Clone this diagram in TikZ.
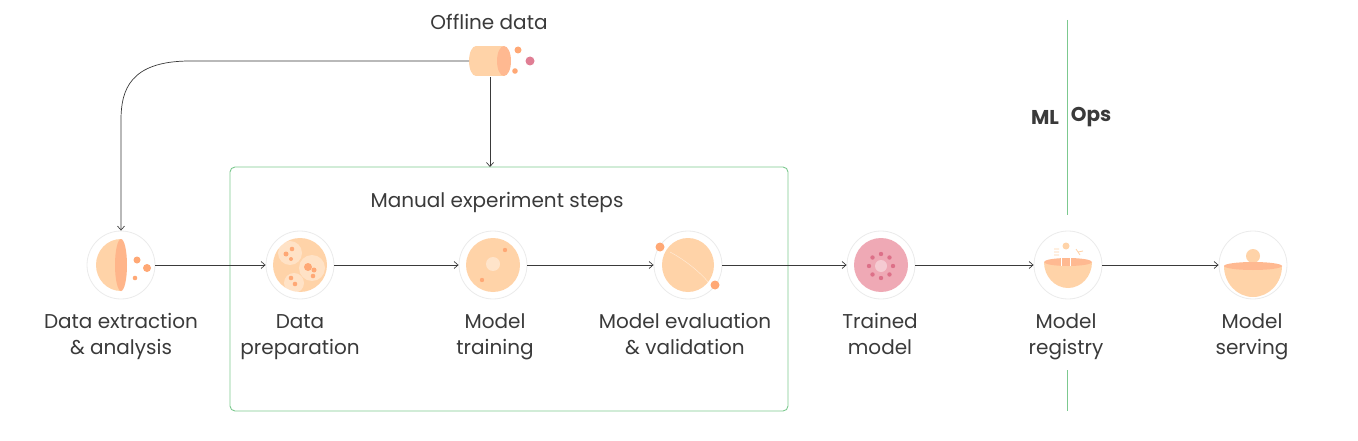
\documentclass[tikz,border=0pt]{standalone}
\usepackage{fontspec}
\setmainfont{Poppins}
\usetikzlibrary{arrows.meta}
\definecolor{peach}{HTML}{FFD3A8}
\definecolor{org}{HTML}{FFA875}
\definecolor{pinkc}{HTML}{EFA9B5}
\definecolor{pinkd}{HTML}{DD7088}
\definecolor{grn}{HTML}{7CC98F}
\definecolor{txt}{HTML}{3A3A3A}
\begin{document}
\begin{tikzpicture}[x=1pt,y=-1pt,
  ring/.style={circle,draw=black!8,line width=0.8pt,fill=white,minimum size=68pt,inner sep=0},
  lab/.style={align=center,font=\fontsize{20}{26}\selectfont,text=txt,inner sep=0},
  arr/.style={-{Straight Barb[length=4pt,width=7pt]},draw=txt,line width=0.7pt}]
\useasboundingbox (0,0) rectangle (1358,441);
\draw[grn,line width=0.9pt,rounded corners=5pt] (230,167) rectangle (788,411);
\node[lab] (title) at (497,202) {Manual experiment steps};
\draw[grn,line width=0.9pt] (1067,20) -- (1067,215);
\draw[grn,line width=0.9pt] (1067,370) -- (1067,411);
\node[lab,font=\fontsize{20}{24}\selectfont\bfseries] (ml) at (1045,117) {ML};
\node[lab,font=\fontsize{20}{24}\selectfont\bfseries] (ops) at (1091,117) {Ops};
\node[lab] (off) at (489,22) {Offline data};
\fill[peach] (476,46) rectangle (504,76);
\fill[peach] (476,61) ellipse (7 and 15);
\fill[org!80] (504,61) ellipse (7 and 15);
\fill[org] (518,50) circle (3.5);
\fill[pinkd!90] (530,61) circle (4.5);
\fill[org] (515,71) circle (2.8);
\coordinate (cl) at (469,61);
\coordinate (cb) at (490,77);
\foreach \n/\x in {a/121,b/300,c/493,d/688,e/881,f/1068,g/1253}{\node[ring] (\n) at (\x,265) {};}
% a
\begin{scope}\clip (90,230) rectangle (121,300); \fill[peach] (121,265) ellipse (25 and 26);\end{scope}
\fill[org!85] (121,265) ellipse (6 and 26);
\fill[org] (137,260) circle (3.5); \fill[org] (147,268) circle (4); \fill[org] (135,278) circle (2.3);
% b
\fill[peach] (300,265) circle (27);
\fill[white,opacity=.35] (290,253) circle (12); \fill[white,opacity=.35] (312,268) circle (13); \fill[white,opacity=.35] (294,283) circle (10);
\foreach \p/\r in {{(286,254)}/2.5,{(292,249)}/2.3,{(291,259)}/2,{(308,267)}/4,{(314,270)}/2.5,{(313,276)}/2.3,{(291,278)}/2.3,{(295,284)}/2.3}{\fill[org] \p circle (\r);}
% c
\fill[peach] (493,265) circle (27);
\fill[white,opacity=.4] (493,264) circle (7);
\fill[org] (505,250) circle (2.2); \fill[org] (482,280) circle (2.2);
% d
\fill[peach] (688,265) ellipse (26 and 27);
\draw[white,opacity=.6] (670,252) .. controls (685,260) and (700,272) .. (709,283);
\fill[org] (660,247) circle (4.5); \fill[org] (715,285) circle (4.5);
% e
\fill[pinkc] (881,265) circle (27);
\fill[white,opacity=.4] (881,266) circle (6);
\foreach \a in {0,45,...,315}{\fill[pinkd] (881,266) ++(\a:12) circle (2.2);}
% f
\begin{scope}\clip (1040,262) rectangle (1100,300); \fill[peach] (1068,262) ellipse (24 and 26);\end{scope}
\fill[org!80] (1068,262) ellipse (24 and 4);
\draw[white,line width=0.6pt] (1061,258) -- (1061,266) (1070,258) -- (1070,266);
\fill[peach] (1066,246) circle (3.5);
\draw[peach,line width=0.8pt] (1054,249) -- (1059,249) (1054,252) -- (1059,252) (1054,255) -- (1059,255) (1076,249) -- (1080,255) (1078,252) -- (1083,251);
% g
\fill[peach] (1253,256) circle (7);
\begin{scope}\clip (1220,266) rectangle (1290,300); \fill[peach] (1253,266) ellipse (29 and 31);\end{scope}
\fill[org!80] (1253,266) ellipse (29 and 4);
% connectors
\draw[arr] (cl) -- (190,61) .. controls (130,61) and (121,90) .. (121,120) -- (a.north);
\draw[arr] (cb) -- (490,167);
\draw[arr] (a) -- (b); \draw[arr] (b) -- (c); \draw[arr] (c) -- (d);
\draw[arr] (d) -- (e); \draw[arr] (e) -- (f); \draw[arr] (f) -- (g);
\node[lab] (la) at (121,336) {\strut Data extraction\\\strut\& analysis};
\node[lab] (lb) at (300,336) {\strut Data\\\strut preparation};
\node[lab] (lc) at (495,336) {\strut Model\\\strut training};
\node[lab] (ld) at (685,336) {\strut Model evaluation\\\strut\& validation};
\node[lab] (le) at (880,336) {\strut Trained\\\strut model};
\node[lab] (lf) at (1066,336) {\strut Model\\\strut registry};
\node[lab] (lg) at (1252,336) {\strut Model\\\strut serving};
\end{tikzpicture}
\end{document}
